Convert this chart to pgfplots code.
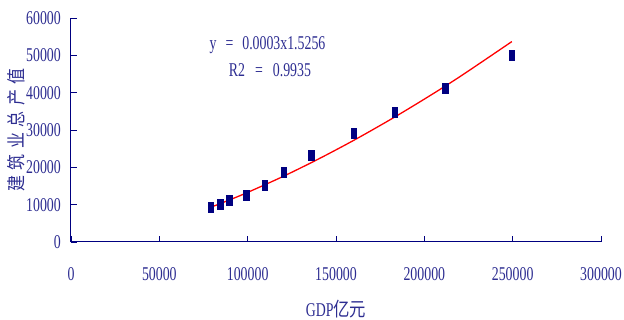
\documentclass[border=0pt]{standalone}
\usepackage{pgfplots}
\pgfplotsset{compat=1.18}
\usepackage{fontspec}
\setmainfont[FakeStretch=0.71]{Liberation Serif}
\newfontfamily\cjk[FakeStretch=0.84]{Noto Sans CJK SC}
\definecolor{navy}{RGB}{0,0,128}
\definecolor{txt}{RGB}{45,45,145}
\begin{document}
\begin{tikzpicture}
\useasboundingbox (0,0) rectangle (624pt,320pt);
\begin{axis}[
  at={(71pt,78pt)}, anchor=south west,
  scale only axis, width=530pt, height=224pt,
  xmin=0, xmax=300000, ymin=0, ymax=60000,
  axis lines=left,
  axis line style={navy, line width=1pt, -},
  tick style={navy, line width=0.9pt},
  tick align=inside,
  major tick length=6pt,
  xtick={0,50000,...,300000},
  ytick={0,10000,...,60000},
  scaled ticks=false,
  /pgf/number format/assume math mode=true,
  /pgf/number format/fixed,
  /pgf/number format/1000 sep={},
  tick label style={font=\fontsize{19.5}{20}\selectfont, text=txt, inner sep=0pt},
  xticklabel style={anchor=north, yshift=-25pt},
  yticklabel style={anchor=east, xshift=-10pt},
  xlabel={GDP{\cjk 亿元}},
  xlabel style={at={(axis description cs:0.5,-0.2589)}, anchor=north, inner sep=0pt,
    font=\fontsize{19.5}{20}\selectfont, text=txt},
  ylabel={\cjk 建\hspace{5.6pt}筑\hspace{5.6pt}业\hspace{5.6pt}总\hspace{5.6pt}产\hspace{5.6pt}值},
  ylabel style={at={(axis description cs:-0.1028,0.5)}, anchor=center, inner sep=0pt,
    font=\fontsize{19}{20}\selectfont, text=txt},
  clip=false,
]
% trend line
\addplot[red, line width=1.3pt, no marks, smooth] coordinates {
  (78973,9270) (90000,11320) (100000,13290) (120000,17550) (140000,22210)
  (160000,27220) (180000,32580) (200000,38270) (220000,44250) (249530,53680)
};
% data points
\addplot[only marks, mark=square*, mark size=5pt,
  mark options={xscale=0.55, fill=navy, draw=navy}] coordinates {
  (78973,9300) (84402,10200) (89677,11150) (99215,12550) (109655,15300)
  (120333,18600) (135823,23150) (159878,29050) (183217,34650)
  (211923,41250) (249530,50000)
};
\node[text=txt, font=\fontsize{19.5}{20}\selectfont, inner sep=0pt]
  at (axis cs:111226,52634) {y\hspace{9pt}=\hspace{9pt}0.0003x1.5256};
\node[text=txt, font=\fontsize{19.5}{20}\selectfont, inner sep=0pt]
  at (axis cs:112642,46071) {R2\hspace{10pt}=\hspace{10pt}0.9935};
\end{axis}
\end{tikzpicture}
\end{document}
